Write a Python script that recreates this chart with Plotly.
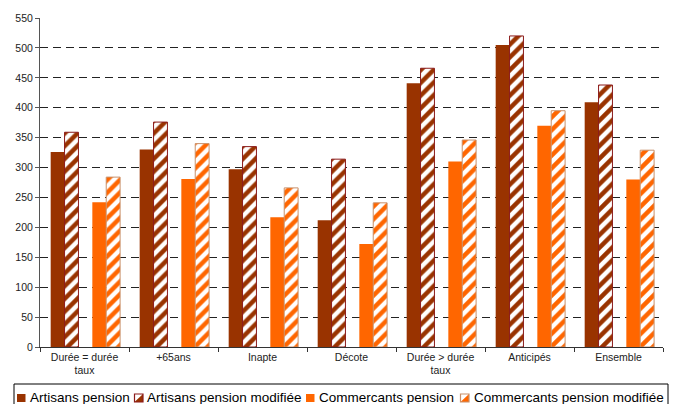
import plotly.graph_objects as go

categories = ["Durée = durée<br>taux", "+65ans", "Inapte", "Décote",
              "Durée > durée<br>taux", "Anticipés", "Ensemble"]
artisans_pension = [326, 330, 297, 212, 441, 505, 409]
artisans_modifiee = [359, 376, 335, 314, 466, 520, 438]
commercants_pension = [242, 281, 217, 172, 310, 370, 280]
commercants_modifiee = [284, 340, 266, 241, 346, 395, 329]
legend_names = ["Artisans pension", "Artisans pension modifiée",
                "Commercants pension", "Commercants pension modifiée"]
y_ticks = list(range(0, 551, 50))

BROWN = "#993300"
ORANGE = "#FF6600"
BROWN_EDGE = "#8B1A1A"
ORANGE_EDGE = "#C8906A"
FONT = "Arial"

W, H = 679, 404
L, R, T, B = 40, 16, 18, 57
PW, PH = W - L - R, H - T - B


def px2x(px):
    return (px - L) / PW


def py2y(py):
    return (H - B - py) / PH


slot = 0.156
shift = 0.01
hatch = dict(shape="/", bgcolor="white", size=9, solidity=0.5, fgopacity=1)
fig = go.Figure()
fig.add_trace(go.Bar(x=categories, y=artisans_pension, name=legend_names[0],
                     width=slot, offset=-2.5 * slot + shift,
                     marker=dict(color=BROWN, line=dict(width=0))))
fig.add_trace(go.Bar(x=categories, y=artisans_modifiee, name=legend_names[1],
                     width=slot, offset=-1.5 * slot + shift,
                     marker=dict(color="white",
                                 line=dict(color=BROWN_EDGE, width=1),
                                 pattern=dict(hatch, fgcolor=BROWN))))
fig.add_trace(go.Bar(x=categories, y=commercants_pension, name=legend_names[2],
                     width=slot, offset=0.5 * slot + shift,
                     marker=dict(color=ORANGE, line=dict(width=0))))
fig.add_trace(go.Bar(x=categories, y=commercants_modifiee, name=legend_names[3],
                     width=slot, offset=1.5 * slot + shift,
                     marker=dict(color="white",
                                 line=dict(color=ORANGE_EDGE, width=1),
                                 pattern=dict(hatch, fgcolor=ORANGE))))

# custom legend (box, symbols, labels)
shapes = []
annotations = []
shapes.append(dict(type="rect", xref="paper", yref="paper",
                   x0=px2x(14), x1=px2x(668), y0=py2y(412), y1=py2y(384),
                   line=dict(color="black", width=1), fillcolor="rgba(0,0,0,0)"))
sym_x = [17, 134.5, 306, 460.5]
txt_x = [29, 146, 318, 472.5]
sym_fill = [BROWN, None, ORANGE, None]
sym_stripe = [None, BROWN, None, ORANGE]
sym_edge = [BROWN, BROWN_EDGE, ORANGE, ORANGE_EDGE]
for i in range(4):
    x0, x1 = px2x(sym_x[i]), px2x(sym_x[i] + 8.5)
    y0, y1 = py2y(402), py2y(394)
    if sym_fill[i]:
        shapes.append(dict(type="rect", xref="paper", yref="paper",
                           x0=x0, x1=x1, y0=y0, y1=y1,
                           line=dict(width=0), fillcolor=sym_fill[i]))
    else:
        shapes.append(dict(type="rect", xref="paper", yref="paper",
                           x0=x0, x1=x1, y0=y0, y1=y1,
                           line=dict(width=0), fillcolor="white"))
        shapes.append(dict(type="path", xref="paper", yref="paper",
                           path=f"M {x0},{y0} L {x1},{y0} L {x1},{y1} Z",
                           line=dict(width=0), fillcolor=sym_stripe[i]))
        shapes.append(dict(type="rect", xref="paper", yref="paper",
                           x0=x0, x1=x1, y0=y0, y1=y1,
                           line=dict(color=sym_edge[i], width=1.2),
                           fillcolor="rgba(0,0,0,0)"))
    annotations.append(dict(text=legend_names[i], xref="paper", yref="paper",
                            x=px2x(txt_x[i] - 1), y=py2y(397.5), xanchor="left",
                            yanchor="middle", showarrow=False,
                            font=dict(family=FONT, size=13.5, color="black")))

fig.update_layout(
    width=W, height=H,
    margin=dict(l=L, r=R, t=T, b=B),
    paper_bgcolor="white", plot_bgcolor="white",
    barmode="overlay",
    showlegend=False,
    font=dict(family=FONT, size=10.5, color="#222"),
    shapes=shapes,
    annotations=annotations,
    xaxis=dict(showline=True, linecolor="#333", linewidth=1,
               ticks="outside", tickson="boundaries", ticklen=4, tickcolor="#333",
               showgrid=False, tickfont=dict(family=FONT, size=10.5, color="#222")),
    yaxis=dict(range=[0, 550], tickvals=y_ticks, showline=True, linecolor="#555",
               linewidth=1, ticks="outside", ticklen=4, tickcolor="#555",
               showgrid=True, gridcolor="#222", gridwidth=1, griddash="8px,5px",
               zeroline=False, tickfont=dict(family=FONT, size=10.5, color="#222")),
)

fig.write_html("out.html")
